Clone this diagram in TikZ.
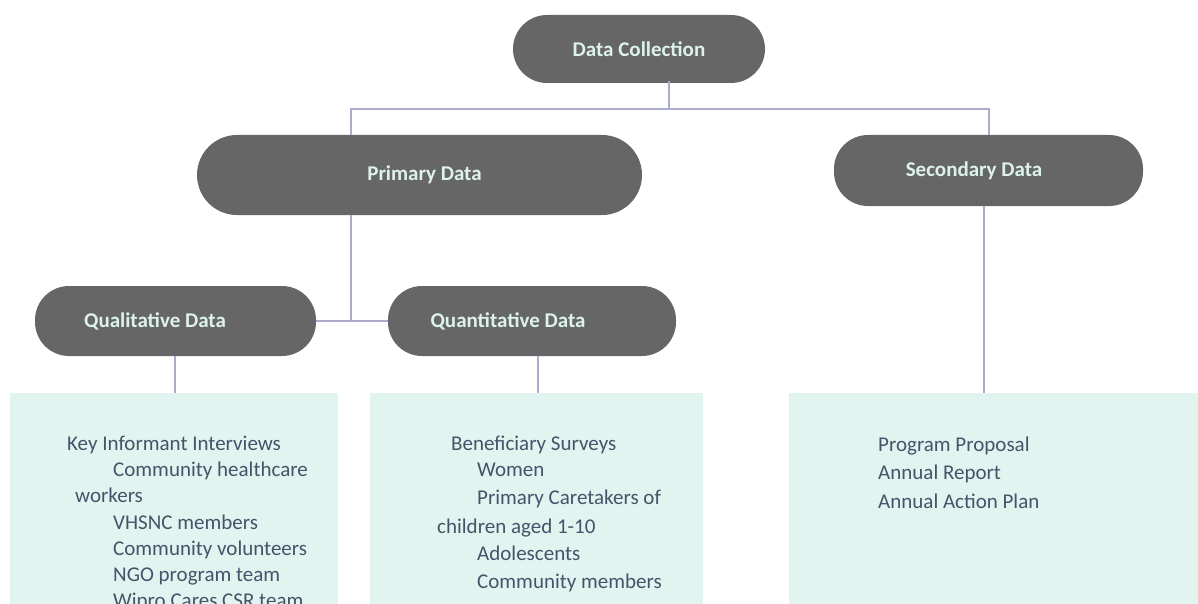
\documentclass[tikz,border=0pt]{standalone}
\usepackage{fontspec}
\setmainfont{Carlito}
\definecolor{pillfill}{HTML}{666666}
\definecolor{pillink}{HTML}{DDF3EA}
\definecolor{panelfill}{HTML}{E1F4EF}
\definecolor{bodyink}{HTML}{44546A}
\definecolor{linkcol}{HTML}{ABABCD}
\tikzset{
  pill/.style={fill=pillfill, rounded corners=34pt, inner sep=0pt},
  pilltext/.style={text=pillink, font=\fontsize{21}{25}\selectfont\bfseries, inner sep=0pt},
  panel/.style={fill=panelfill, inner sep=0pt, anchor=north west},
  item/.style={text=bodyink, font=\fontsize{21}{26}\selectfont, anchor=base west, inner sep=0pt},
  link/.style={draw=linkcol, line width=2pt}
}
\begin{document}
\begin{tikzpicture}[x=1pt,y=-1pt]
\useasboundingbox (0,0) rectangle (1198,604);
\clip (0,0) rectangle (1198,604);

% panels holding the source lists
\node[panel, minimum width=328, minimum height=240] (qlbox) at (10,393) {};
\node[panel, minimum width=333, minimum height=240] (qnbox) at (370,393) {};
\node[panel, minimum width=409, minimum height=240] (sdbox) at (789,393) {};

% category pills
\node[pill, minimum width=252, minimum height=68,
      label={[pilltext]center:Data Collection}] (dc) at (639,49) {};
\node[pill, minimum width=445, minimum height=80, rounded corners=40pt,
      label={[pilltext, xshift=5]center:Primary Data}] (pd) at (419.5,175) {};
\node[pill, minimum width=309, minimum height=71,
      label={[pilltext, xshift=-14.5]center:Secondary Data}] (sd) at (988.5,170.5) {};
\node[pill, minimum width=281, minimum height=70,
      label={[pilltext, xshift=-20.5]center:Qualitative Data}] (ql) at (175.5,321) {};
\node[pill, minimum width=288, minimum height=70,
      label={[pilltext, xshift=-24]center:Quantitative Data}] (qn) at (532,321) {};

% junction points of the tree
\coordinate (hub) at (669,109);
\coordinate (pdx) at (351,0);
\coordinate (sdx) at (989,0);
\coordinate (qjoin) at (351,322);
\coordinate (qlx) at (175,0);
\coordinate (qnx) at (538,0);
\coordinate (sdy) at (984,0);

% connectors
\draw[link] ([yshift=2]dc.south -| hub) -- (hub);
\draw[link] (pd.north -| pdx) |- (hub) -| (sd.north -| sdx);
\draw[link] (pd.south -| pdx) -- (qjoin);
\draw[link] (ql.east) -- (qn.west);
\draw[link] (ql.south -| qlx) -- (qlbox.north -| qlx);
\draw[link] (qn.south -| qnx) -- (qnbox.north -| qnx);
\draw[link] (sd.south -| sdy) -- (sdbox.north -| sdy);

% qualitative sources
\node[item] (k1) at (67,450) {Key Informant Interviews};
\node[item] (k2) at (113,476) {Community healthcare};
\node[item] (k3) at (75,502) {workers};
\node[item] (k4) at (113,529) {VHSNC members};
\node[item] (k5) at (113,555) {Community volunteers};
\node[item] (k6) at (113,581) {NGO program team};
\node[item] (k7) at (113,607) {Wipro Cares CSR team};

% quantitative sources
\node[item] (b1) at (451,450) {Beneficiary Surveys};
\node[item] (b2) at (477,476) {Women};
\node[item] (b3) at (477,504) {Primary Caretakers of};
\node[item] (b4) at (437,533) {children aged 1-10};
\node[item] (b5) at (477,560) {Adolescents};
\node[item] (b6) at (477,588) {Community members};

% secondary sources
\node[item] (s1) at (878,451) {Program Proposal};
\node[item] (s2) at (878,479) {Annual Report};
\node[item] (s3) at (878,508) {Annual Action Plan};
\end{tikzpicture}
\end{document}
